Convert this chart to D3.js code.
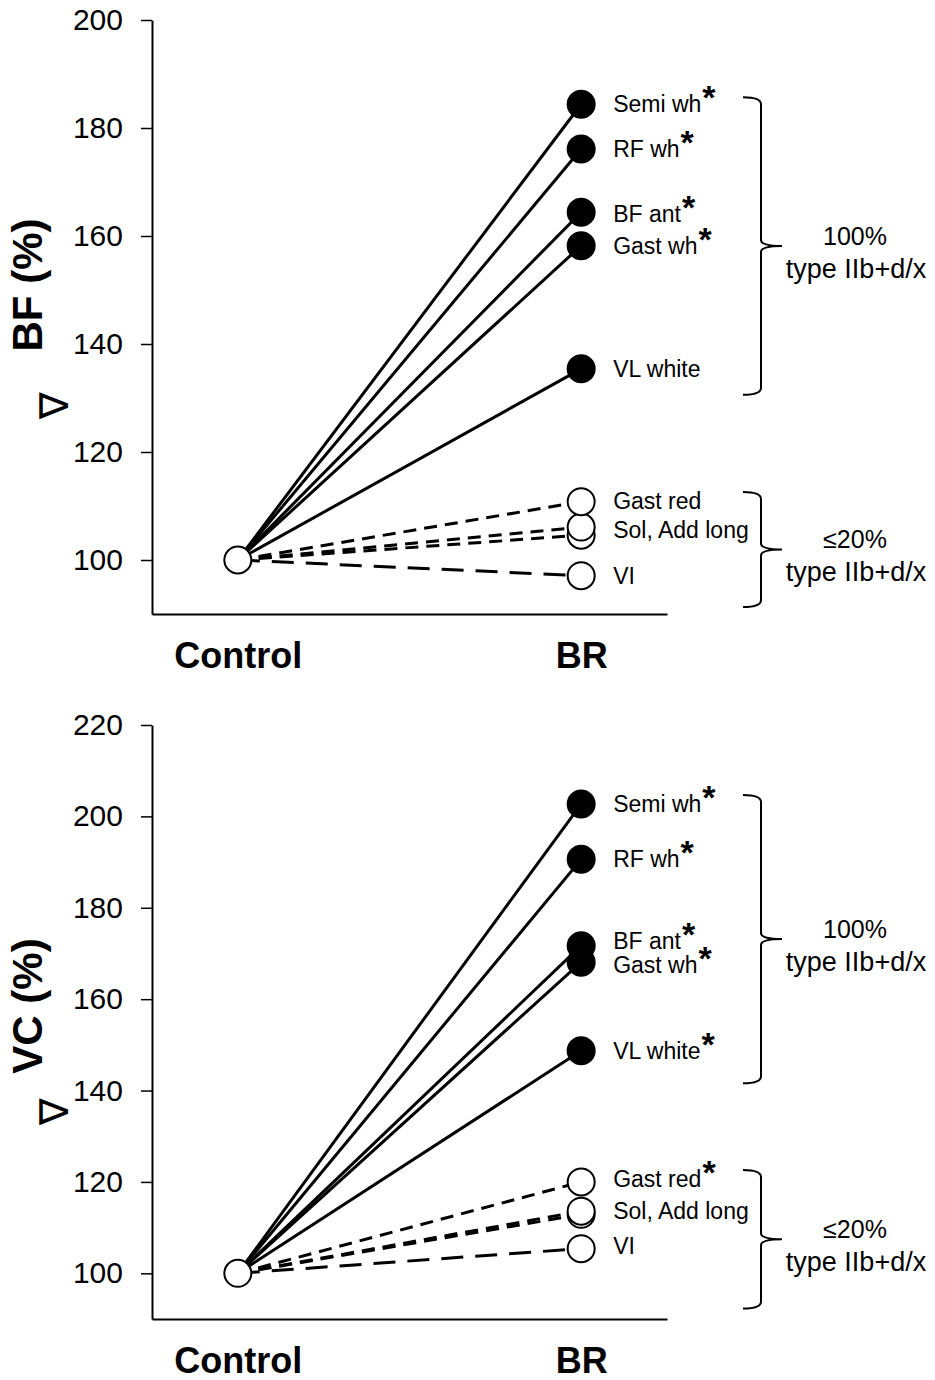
<!DOCTYPE html>
<html>
<head>
<meta charset="utf-8">
<script src="https://cdn.jsdelivr.net/npm/d3@7"></script>
<style>
  body { margin: 0; background: #fff; }
  svg { font-family: 'Liberation Sans', Arial, sans-serif; }
</style>
</head>
<body>
<svg id="chart"></svg>
<script>
const WIDTH = 935;
const HEIGHT = 1380;

// Data.
const groups = ['Control', 'BR'];
const muscles = ['Semi wh', 'RF wh', 'BF ant', 'Gast wh', 'VL white', 'Gast red', 'Sol', 'Add long', 'VI'];
const isFast = [true, true, true, true, true, false, false, false, false];
const controlValue = 100;

const bfValues = [184.4, 176.1, 164.4, 158.2, 135.4, 110.8, 106.1, 104.6, 97.1];
const vcValues = [202.7, 190.6, 171.7, 168.1, 148.7, 120.0, 113.6, 112.9, 105.4];

const labelTexts = ['Semi wh', 'RF wh', 'BF ant', 'Gast wh', 'VL white', 'Gast red', 'Sol, Add long', 'VI'];
const bfLabelValues = [184.4, 176.1, 164.0, 158.2, 135.4, 111.0, 105.5, 97.1];
const bfLabelStars = [true, true, true, true, false, false, false, false];
const vcLabelValues = [202.7, 190.6, 172.8, 167.4, 148.7, 120.6, 113.6, 106.0];
const vcLabelStars = [true, true, true, true, true, true, false, false];

const bfTicks = [100, 120, 140, 160, 180, 200];
const vcTicks = [100, 120, 140, 160, 180, 200, 220];

const braceTexts = [['100%', 'type IIb+d/x'], ['\u226420%', 'type IIb+d/x']];
const bfBraces = [[185.7, 130.6], [112.6, 91.3]];
const vcBraces = [[204.7, 141.6], [122.6, 92.3]];

const svg = d3.select('#chart')
  .attr('width', WIDTH)
  .attr('height', HEIGHT)
  .attr('viewBox', `0 0 ${WIDTH} ${HEIGHT}`);

const x = d3.scalePoint().domain(groups).range([152, 667]).padding(0.25);

function drawPanel(opts) {
  const g = svg.append('g');
  const y = d3.scaleLinear().domain(opts.domain).range(opts.range);

  // Axes
  const yAxis = g.append('g')
    .attr('transform', 'translate(152,0)')
    .call(d3.axisLeft(y).tickValues(opts.ticks).tickSize(11).tickSizeOuter(0).tickPadding(18));
  yAxis.select('.domain').attr('stroke', '#000').attr('stroke-width', 2);
  yAxis.selectAll('.tick line').attr('stroke', '#000').attr('stroke-width', 1.5);
  yAxis.selectAll('.tick text')
    .attr('font-size', 30)
    .attr('font-family', "'Liberation Sans', Arial, sans-serif")
    .attr('fill', '#000');

  const xAxis = g.append('g')
    .attr('transform', `translate(0,${opts.range[0]})`)
    .call(d3.axisBottom(x).tickSize(0).tickPadding(28));
  xAxis.select('.domain').attr('stroke', '#000').attr('stroke-width', 2);
  xAxis.selectAll('.tick text')
    .attr('font-size', 36)
    .attr('font-weight', 'bold')
    .attr('font-family', "'Liberation Sans', Arial, sans-serif")
    .attr('fill', '#000');

  // Y title
  const tx = 42;
  g.append('text')
    .attr('transform', `translate(${tx},${opts.titleY}) rotate(-90)`)
    .attr('text-anchor', 'middle')
    .attr('font-size', 42)
    .attr('font-weight', 'bold')
    .text(opts.title);
  g.append('text')
    .attr('transform', `translate(${tx + 26},${opts.nablaY}) rotate(-90)`)
    .attr('text-anchor', 'middle')
    .attr('font-size', 40)
    .text('\u2207');

  // Lines from control to BR
  const pts = muscles.map((m, i) => ({name: m, value: opts.values[i], fast: isFast[i]}));
  g.append('g').selectAll('line')
    .data(pts)
    .join('line')
    .attr('x1', x('Control'))
    .attr('y1', y(controlValue))
    .attr('x2', x('BR'))
    .attr('y2', d => y(d.value))
    .attr('stroke', '#000')
    .attr('stroke-width', 3)
    .attr('stroke-dasharray', d => d.fast ? null : (d.name === 'VI' ? '22,12' : '13,8'));

  // BR markers (draw lower values first so upper ones sit on top)
  g.append('g').selectAll('circle')
    .data(pts.slice().reverse())
    .join('circle')
    .attr('cx', x('BR'))
    .attr('cy', d => y(d.value))
    .attr('r', 13.5)
    .attr('fill', d => d.fast ? '#000' : '#fff')
    .attr('stroke', '#000')
    .attr('stroke-width', 2);

  // Control marker
  g.append('circle')
    .attr('cx', x('Control'))
    .attr('cy', y(controlValue))
    .attr('r', 13.5)
    .attr('fill', '#fff')
    .attr('stroke', '#000')
    .attr('stroke-width', 2);

  // Muscle labels
  const labels = g.append('g').selectAll('text')
    .data(labelTexts.map((t, i) => ({text: t, value: opts.labelValues[i], star: opts.labelStars[i]})))
    .join('text')
    .attr('x', x('BR') + 32)
    .attr('y', d => y(d.value) + 8)
    .attr('font-size', 23);
  labels.append('tspan').text(d => d.text);
  labels.filter(d => d.star)
    .append('tspan')
    .attr('font-size', 34)
    .attr('font-weight', 'bold')
    .attr('dx', 1)
    .attr('dy', -3)
    .text('*');

  // Braces with group text
  opts.braces.forEach((b, i) => {
    const y1 = y(b[0]);
    const y2 = y(b[1]);
    const ym = (y1 + y2) / 2;
    const bx = 761;
    g.append('path')
      .attr('d', `M${bx - 18},${y1} Q${bx},${y1} ${bx},${y1 + 7} L${bx},${ym - 6} ` +
        `Q${bx},${ym} ${bx + 21},${ym} Q${bx},${ym} ${bx},${ym + 6} ` +
        `L${bx},${y2 - 7} Q${bx},${y2} ${bx - 18},${y2}`)
      .attr('fill', 'none')
      .attr('stroke', '#000')
      .attr('stroke-width', 2);
    g.append('text')
      .attr('x', 855)
      .attr('y', ym - 1)
      .attr('text-anchor', 'middle')
      .attr('font-size', 25)
      .text(braceTexts[i][0]);
    g.append('text')
      .attr('x', 856)
      .attr('y', ym + 32)
      .attr('text-anchor', 'middle')
      .attr('font-size', 27)
      .text(braceTexts[i][1]);
  });
}

drawPanel({
  domain: [90, 200], range: [614, 20], ticks: bfTicks,
  values: bfValues, labelValues: bfLabelValues, labelStars: bfLabelStars,
  braces: bfBraces, title: 'BF (%)', titleY: 285, nablaY: 405
});

drawPanel({
  domain: [90, 220], range: [1319, 725], ticks: vcTicks,
  values: vcValues, labelValues: vcLabelValues, labelStars: vcLabelStars,
  braces: vcBraces, title: 'VC (%)', titleY: 1006, nablaY: 1111
});
</script>
</body>
</html>
